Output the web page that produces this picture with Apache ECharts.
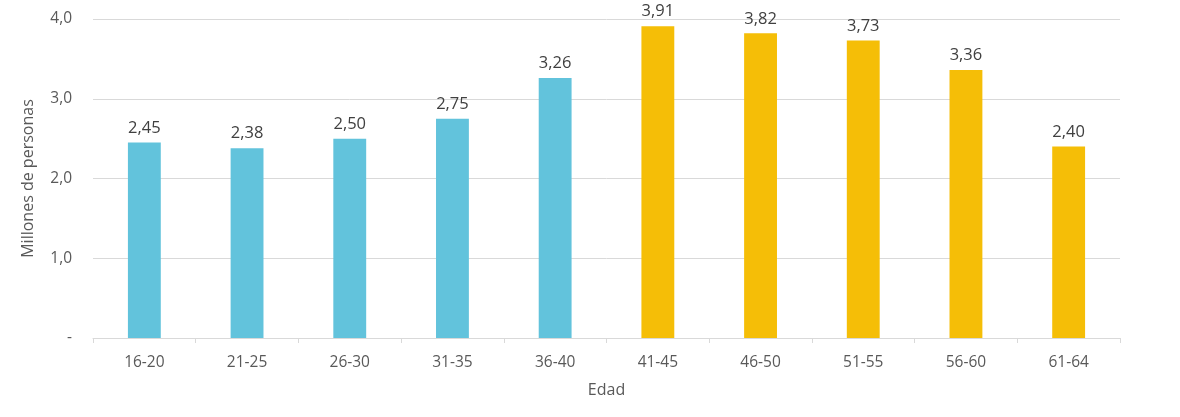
<!DOCTYPE html>
<html>
<head>
    <meta charset="utf-8">
    <script src="https://cdn.jsdelivr.net/npm/echarts@6/dist/echarts.min.js"></script>
    <style>
        html, body { margin: 0; padding: 0; background: #fff; }
        #container { width: 1180px; height: 417px; }
    </style>
</head>
<body>
    <div id="container"></div>
<script type="text/javascript">
    // datos
    var edades = ['16-20', '21-25', '26-30', '31-35', '36-40', '41-45', '46-50', '51-55', '56-60', '61-64'];
    var millones = [2.45, 2.38, 2.50, 2.75, 3.26, 3.91, 3.82, 3.73, 3.36, 2.40];
    var grupo = ['a', 'a', 'a', 'a', 'a', 'b', 'b', 'b', 'b', 'b'];
    var colores = { a: '#62C3DC', b: '#F5BE07' };

    var coma = function (v, d) {
        return v.toFixed(d).replace('.', ',');
    };

    var chart = echarts.init(document.getElementById('container'));
    var fuente = '"Open Sans", "Liberation Sans", sans-serif';
    chart.setOption({
        animation: false,
        textStyle: { fontFamily: fuente, color: '#595959' },
        grid: { left: 93, right: 60, top: 19, bottom: 79 },
        xAxis: {
            type: 'category',
            data: edades,
            name: 'Edad',
            nameLocation: 'middle',
            nameGap: 44,
            nameTextStyle: { fontSize: 16, color: '#595959', fontFamily: fuente },
            axisLine: { lineStyle: { color: '#d9d9d9' } },
            axisTick: { show: true, length: 5, lineStyle: { color: '#d9d9d9' } },
            axisLabel: { fontSize: 15.5, color: '#595959', margin: 17 }
        },
        yAxis: {
            type: 'value',
            min: 0,
            max: 4,
            interval: 1,
            name: 'Millones de personas',
            nameLocation: 'middle',
            nameGap: 57,
            nameTextStyle: { fontSize: 16, color: '#595959', fontFamily: fuente },
            axisLine: { show: false },
            axisTick: { show: false },
            axisLabel: {
                fontSize: 15.5,
                color: '#595959',
                margin: 21,
                formatter: function (v) { return v === 0 ? '-' : coma(v, 1); }
            },
            splitLine: { lineStyle: { color: '#d9d9d9' } }
        },
        series: [{
            type: 'bar',
            barWidth: '32%',
            data: millones.map(function (v, i) {
                return { value: v, itemStyle: { color: colores[grupo[i]] } };
            }),
            label: {
                show: true,
                position: 'top',
                distance: 6,
                fontSize: 16.5,
                color: '#404040',
                formatter: function (p) { return coma(p.value, 2); }
            }
        }]
    });
</script>
</body>
</html>
